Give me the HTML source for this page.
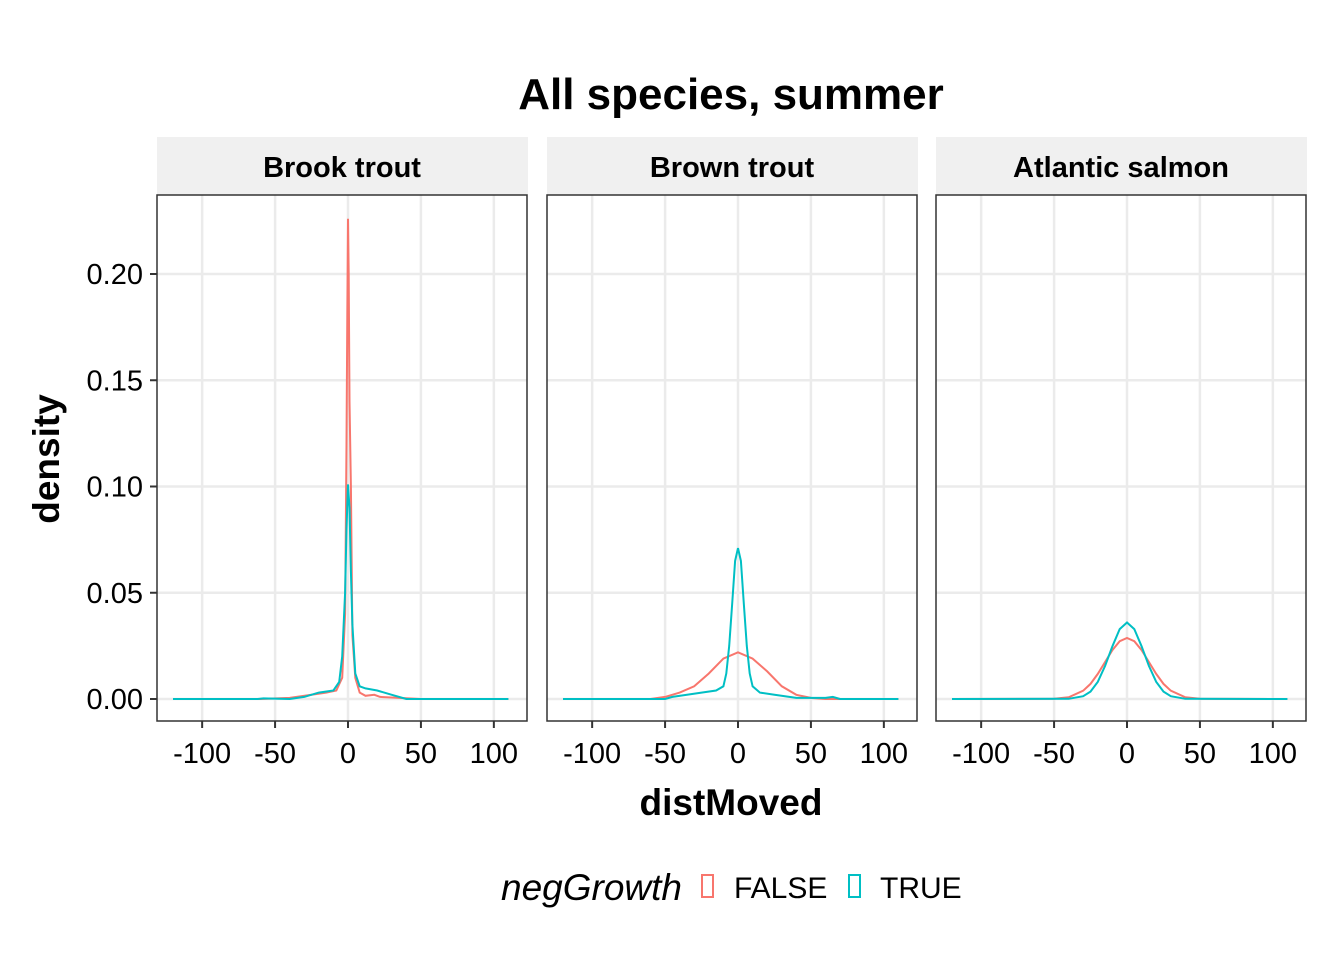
<!DOCTYPE html>
<html><head><meta charset="utf-8"><style>
body{margin:0;background:#fff;font-family:"Liberation Sans",sans-serif}
svg text{font-family:"Liberation Sans",sans-serif}
</style></head><body>
<svg id="c" width="1344" height="960" xmlns="http://www.w3.org/2000/svg">
<text x="731" y="109" font-size="44" font-weight="bold" text-anchor="middle">All species, summer</text>
<text transform="translate(59,459) rotate(-90)" font-size="37" font-weight="bold" text-anchor="middle">density</text>
<text x="731" y="815" font-size="37" font-weight="bold" text-anchor="middle">distMoved</text>
<g>
<text x="682" y="900" font-size="37" font-style="italic" text-anchor="end">negGrowth</text>
<rect x="702" y="875" width="11" height="22" fill="none" stroke="#F8766D" stroke-width="2"/>
<text x="734" y="898" font-size="30">FALSE</text>
<rect x="849" y="875" width="11" height="22" fill="none" stroke="#00BFC4" stroke-width="2"/>
<text x="880" y="898" font-size="30">TRUE</text>
</g>
<g id="panels"></g>
</svg>
<script>
const panelNames=["Brook trout","Brown trout","Atlantic salmon"];
const xTicks=[-100,-50,0,50,100];
const yTicks=[0,0.05,0.10,0.15,0.20];
const yTickLabels=["0.00","0.05","0.10","0.15","0.20"];
const p1xF=[-120,-60,-40,-25,-15,-8,-4,-2,-1,-0.5,0,0.5,1,2,3,5,8,12,18,22,35,50,110];
const p1yF=[0,0,0.0005,0.002,0.003,0.004,0.01,0.04,0.12,0.18,0.226,0.2,0.14,0.1,0.03,0.01,0.003,0.0015,0.002,0.001,0.0005,0,0];
const p1xT=[-120,-62,-58,-40,-30,-20,-10,-6,-4,-2,-1,0,1,2,3,5,8,12,20,30,40,110];
const p1yT=[0,0,0.0003,0,0.001,0.003,0.004,0.008,0.02,0.05,0.08,0.101,0.09,0.06,0.035,0.012,0.006,0.005,0.004,0.002,0,0];
const p2xF=[-120,-60,-50,-40,-30,-20,-10,0,10,20,30,40,50,60,110];
const p2yF=[0,0,0.001,0.003,0.006,0.012,0.019,0.022,0.019,0.013,0.006,0.002,0.0005,0,0];
const p2xT=[-120,-50,-45,-35,-25,-15,-10,-8,-6,-4,-2,0,2,4,6,8,10,15,25,40,60,65,70,110];
const p2yT=[0,0,0.001,0.002,0.003,0.004,0.006,0.012,0.025,0.045,0.065,0.071,0.065,0.045,0.025,0.012,0.006,0.003,0.002,0.0005,0.0005,0.001,0,0];
const p3xF=[-120,-50,-40,-30,-25,-20,-15,-10,-5,0,5,10,15,20,25,30,40,50,110];
const p3yF=[0,0.0001,0.0008,0.0039,0.0071,0.0118,0.0174,0.023,0.0272,0.0287,0.0272,0.023,0.0174,0.0118,0.0071,0.0039,0.0008,0.0001,0];
const p3xT=[-120,-40,-30,-25,-20,-15,-10,-5,0,5,10,15,20,25,30,40,110];
const p3yT=[0,0.0001,0.0013,0.0035,0.0081,0.0156,0.0248,0.0329,0.036,0.0329,0.0248,0.0156,0.0081,0.0035,0.0013,0.0001,0];
const series=[[[p1xF,p1yF],[p1xT,p1yT]],[[p2xF,p2yF],[p2xT,p2yT]],[[p3xF,p3yF],[p3xT,p3yT]]];
const colors=["#F8766D","#00BFC4"];
const panelLeft=[157,547,936], pw=370, plotTop=195, plotBottom=721;
const NS="http://www.w3.org/2000/svg";
const g=document.getElementById('panels');
function mk(t,a,parent){const e=document.createElementNS(NS,t);for(const k in a)e.setAttribute(k,a[k]);(parent||g).appendChild(e);return e;}
function yS(v){return 699-v*2125;}
panelNames.forEach((name,i)=>{
  const L=panelLeft[i];
  const xS=v=>L+191+v*1.4585;
  const pg=mk('g',{});
  
  
  const st=mk('rect',{x:L,y:137,width:pw+1,height:58,fill:'#F0F0F0'},pg);
  
  
  const stt=mk('text',{x:L+pw/2,y:177,'font-size':29,'font-weight':'bold','text-anchor':'middle'},pg);
  stt.textContent=name;
  
  
  yTicks.forEach(v=>{const l=mk('line',{x1:L,x2:L+pw,y1:yS(v),y2:yS(v),stroke:'#EBEBEB','stroke-width':2.5},pg);
    });
  xTicks.forEach(v=>{const l=mk('line',{x1:xS(v),x2:xS(v),y1:plotTop,y2:plotBottom,stroke:'#EBEBEB','stroke-width':2.5},pg);
    
    const t=mk('line',{x1:xS(v),x2:xS(v),y1:plotBottom,y2:plotBottom+7,stroke:'#333','stroke-width':2},pg);
    
    const tx=mk('text',{x:xS(v),y:763,'font-size':29,'text-anchor':'middle',fill:'#000'},pg);
    tx.textContent=String(v);
    });
  series[i].forEach((s,j)=>{
    const d=s[0].map((x,k)=>(k?'L':'M')+xS(x).toFixed(1)+','+yS(s[1][k]).toFixed(1)).join('');
    const p=mk('path',{d:d,fill:'none',stroke:colors[j],'stroke-width':2},pg);
    
    
  });
  const b=mk('rect',{x:L,y:plotTop,width:pw,height:plotBottom-plotTop,fill:'none',stroke:'#333','stroke-width':1.5},pg);
  
  if(i===0){
    yTicks.forEach((v,k)=>{
      const t=mk('line',{x1:L-7,x2:L,y1:yS(v),y2:yS(v),stroke:'#333','stroke-width':2},pg);
      
      const tx=mk('text',{x:L-14,y:yS(v)+10,'font-size':29,'text-anchor':'end'},pg);
      tx.textContent=yTickLabels[k];
      
    });
  }
});
</script>
</body></html>
